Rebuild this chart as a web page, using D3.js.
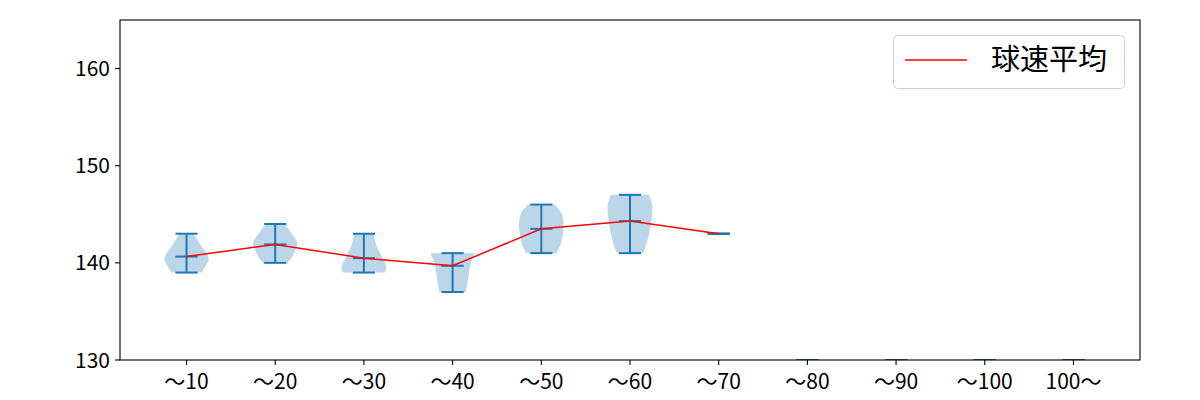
<!DOCTYPE html>
<html><head><meta charset="utf-8">
<script src="https://cdn.jsdelivr.net/npm/d3@7"></script>
<style>body{margin:0;background:#fff}svg{display:block}text{font-family:"Noto Sans CJK JP","Noto Sans",sans-serif}</style>
</head><body>
<svg id="chart" width="1200" height="400"></svg>
<script>
const categories = ["〜10","〜20","〜30","〜40","〜50","〜60","〜70","〜80","〜90","〜100","100〜"];
const minVals  = [139, 140, 139, 137, 141, 141, 143, 130, 130, 130, 130];
const maxVals  = [143, 144, 143, 141, 146, 147, 143, 130, 130, 130, 130];
const meanVals = [140.65, 141.9, 140.48, 139.7, 143.5, 144.3, 143];
// relative density, bottom (min) to top (max), evenly spaced
const densities = [
  [0.68, 0.86, 1.0, 0.9, 0.68, 0.5, 0.32],
  [0.55, 0.77, 0.9, 1.0, 0.86, 0.64, 0.45],
  [0.95, 1.0, 0.86, 0.73, 0.59, 0.5, 0.45],
  [0.6, 0.65, 0.7, 0.74, 0.79, 0.88, 1.0],
  [0.68, 0.86, 0.95, 1.0, 1.0, 0.9, 0.6],
  [0.59, 0.75, 0.86, 0.95, 1.0, 1.0, 0.86],
  [], [], [], [], []
];
const yTicks = [130, 140, 150, 160];
const legendLabel = "球速平均";

const svg = d3.select("#chart");
const L = 120, R = 1140, T = 20, B = 360;
const x = d3.scaleLinear().domain([0.25, 11.75]).range([L, R]);
const y = d3.scaleLinear().domain([130, 165]).range([B, T]);
const blue = "#1f77b4";
const halfW = x(1.25) - x(1);   // width 0.5 -> half 0.25
const capW = x(1.125) - x(1);

const clip = svg.append("defs").append("clipPath").attr("id","clip")
  .append("rect").attr("x",L).attr("y",T-1).attr("width",R-L).attr("height",B-T+1);
const g = svg.append("g").attr("clip-path","url(#clip)");

// violin bodies
const area = d3.area().curve(d3.curveCatmullRom.alpha(0.5))
  .y(d => y(d.v)).x0(d => d.c - d.w*halfW).x1(d => d.c + d.w*halfW);
categories.forEach((c,i) => {
  const dens = densities[i];
  if (!dens.length) return;
  const n = dens.length;
  const pts = dens.map((w,k) => ({v: minVals[i] + (maxVals[i]-minVals[i])*k/(n-1), w, c: x(i+1)}));
  g.append("path").attr("d", area(pts)).attr("fill", blue).attr("fill-opacity", 0.3);
});

// vertical bars and caps
categories.forEach((c,i) => {
  const cx = x(i+1);
  g.append("line").attr("x1",cx).attr("x2",cx).attr("y1",y(minVals[i])).attr("y2",y(maxVals[i]))
    .attr("stroke",blue).attr("stroke-width",2);
  [minVals[i], maxVals[i]].forEach(v => {
    g.append("line").attr("x1",cx-capW).attr("x2",cx+capW).attr("y1",y(v)).attr("y2",y(v))
      .attr("stroke",blue).attr("stroke-width",2);
  });
  if (i < meanVals.length) {
    g.append("line").attr("x1",cx-capW).attr("x2",cx+capW).attr("y1",y(meanVals[i])).attr("y2",y(meanVals[i]))
      .attr("stroke",blue).attr("stroke-width",2);
  }
});

// mean line
const line = d3.line().x((d,i) => x(i+1)).y(d => y(d));
g.append("path").attr("d", line(meanVals)).attr("fill","none").attr("stroke","red").attr("stroke-width",1.5);

// frame
svg.append("rect").attr("x",L).attr("y",T).attr("width",R-L).attr("height",B-T)
  .attr("fill","none").attr("stroke","#000").attr("stroke-width",1.1);

// x axis
const xa = svg.append("g");
categories.forEach((c,i) => {
  const cx = x(i+1);
  xa.append("line").attr("x1",cx).attr("x2",cx).attr("y1",B).attr("y2",B+5).attr("stroke","#000").attr("stroke-width",1.1);
  xa.append("text").attr("x",cx).attr("y",B+29).attr("text-anchor","middle").attr("font-size",21).attr("fill","#000").text(c);
});
// y axis
yTicks.forEach(v => {
  svg.append("line").attr("x1",L-5).attr("x2",L).attr("y1",y(v)).attr("y2",y(v)).attr("stroke","#000").attr("stroke-width",1.1);
  svg.append("text").attr("x",L-10).attr("y",y(v)).attr("dy","0.36em").attr("text-anchor","end").attr("font-size",21).attr("fill","#000").text(v);
});

// legend
const lg = svg.append("g");
lg.append("rect").attr("x",893.5).attr("y",35.5).attr("width",231).attr("height",53).attr("rx",4)
  .attr("fill","#fff").attr("fill-opacity",0.8).attr("stroke","#d0d0d0").attr("stroke-width",1);
lg.append("line").attr("x1",905).attr("x2",967).attr("y1",60).attr("y2",60).attr("stroke","red").attr("stroke-width",1.5);
lg.append("text").attr("x",991).attr("y",60).attr("dy","0.36em").attr("font-size",29).attr("fill","#000").text(legendLabel);
</script>
</body></html>
